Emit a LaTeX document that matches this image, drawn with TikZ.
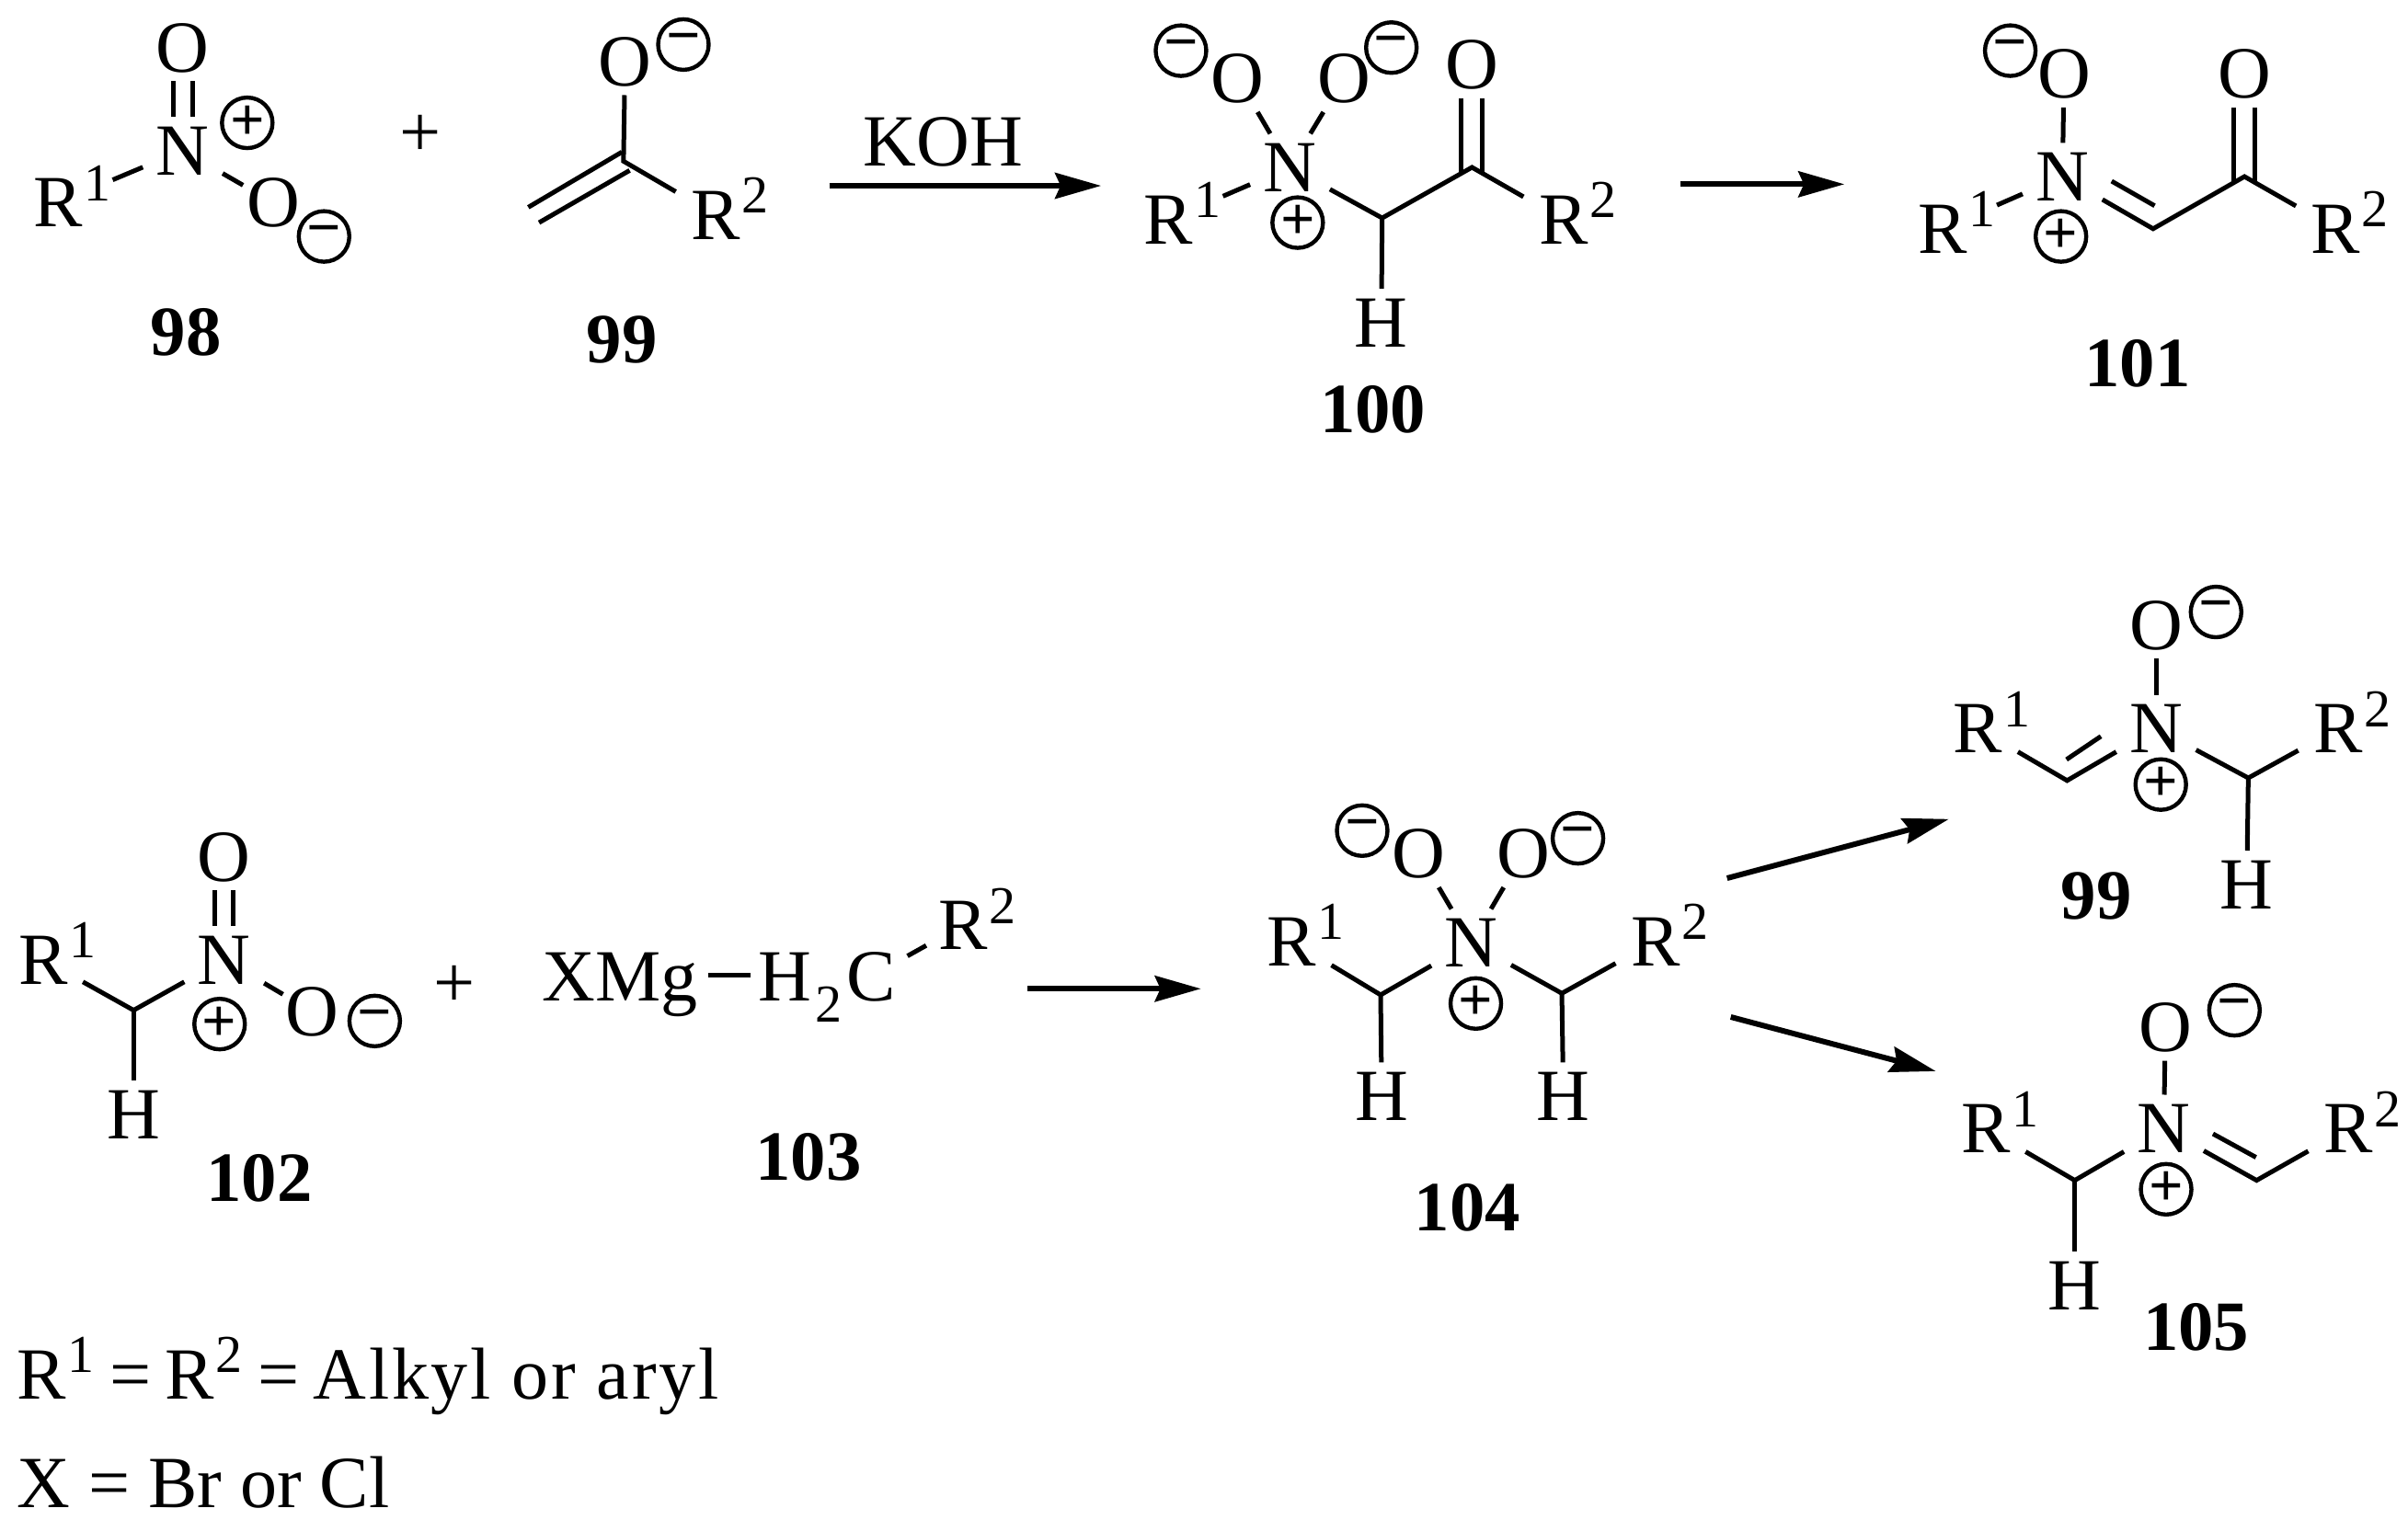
\documentclass[tikz,border=0pt]{standalone}
\usepackage{fontspec}
\setmainfont{Liberation Serif}
\usetikzlibrary{arrows.meta}
\newcommand{\mainsize}{\fontsize{40}{44}\selectfont}
\newcommand{\numsize}{\fontsize{38.4}{42}\selectfont}
\newcommand{\supsize}{\fontsize{29}{31}\selectfont}
\newcommand{\supR}[1]{R\rlap{\kern0.8pt\raisebox{14.2pt}{\supsize #1}}}
\newcommand{\inlinesup}[1]{\kern0.8pt\raisebox{14.2pt}{\supsize #1}}
\tikzset{
  x=0.83482pt,y=-0.83482pt,
  atom/.style={rectangle,inner sep=0pt,outer sep=0pt,minimum width=43.4pt,minimum height=36.7pt,
    font=\mainsize,text height=26.5pt,text depth=0pt},
  txt/.style={inner sep=0pt,outer sep=0pt,font=\mainsize,text height=26.5pt,text depth=0pt},
  free/.style={inner sep=0pt,outer sep=0pt,font=\mainsize},
  num/.style={inner sep=0pt,outer sep=0pt,font=\numsize\bfseries,text height=26pt,text depth=0pt},
  chg/.style={circle,draw=black,line width=2.2pt,minimum size=27.5pt,inner sep=0pt,outer sep=0pt,
    font=\fontsize{33}{33}\selectfont\bfseries},
  bond/.style={draw=black,line width=2.5pt,line cap=butt,line join=miter},
  rxn/.style={draw=black,line width=3pt,-{Stealth[length=25pt,width=14pt,inset=3pt]}},
}
\begin{document}
\begin{tikzpicture}
\useasboundingbox (0,0) rectangle (1568,989.44);
% ---------- 98
\node[atom] (aR) at (38,132) {\supR{1}};
\node[atom] (aN) at (119,98) {N};
\node[atom] (aO1) at (119,31) {O};
\node[atom] (aO2) at (178,132) {O};
\node[chg] (aP) at (161,80) {+};
\node[chg] (aM) at (211,154) {−};
\draw[bond,shorten <=8.5pt] (aR) -- (aN);
\draw[bond,shorten >=-6pt] (aN) -- (aO2);
\draw[bond] ([xshift=-5.3pt]aN.north) -- ([xshift=-5.3pt]aO1.south);
\draw[bond] ([xshift=5.3pt]aN.north) -- ([xshift=5.3pt]aO1.south);
\node[num] (n98) at (121,216) {98};
\node[txt] (plusA) at (274,86) {+};
% ---------- 99
\node[atom] (bO) at (407,40) {O};
\node[chg] (bM) at (445,29) {−};
\node[atom] (bR) at (466,140) {\supR{2}};
\coordinate (bC) at (406,105);
\coordinate (bA1) at (405,99);
\coordinate (bA2) at (344,135);
\coordinate (bB1) at (410,111);
\coordinate (bB2) at (351,145);
\draw[bond] (bO) -- (bC) -- (bR);
\draw[bond] (bA1) -- (bA2);
\draw[bond] (bB1) -- (bB2);
\node[num] (n99) at (405,221) {99};
% arrow KOH
\node[txt] (koh) at (614,92) {KOH};
\coordinate (r1s) at (540,121);
\coordinate (r1e) at (717,121);
\draw[rxn] (r1s) -- (r1e);
% ---------- 100
\node[atom] (cR) at (761,143) {\supR{1}};
\node[atom] (cN) at (840,109) {N};
\node[chg] (cP) at (845,145) {+};
\node[atom] (cO1) at (806,51) {O};
\node[chg] (cM1) at (769,33) {−};
\node[atom] (cO2) at (875,51) {O};
\node[chg] (cM2) at (906,31) {−};
\node[atom] (cO3) at (958.5,42) {O};
\node[atom] (cR2) at (1018,143) {\supR{2}};
\node[atom] (cH) at (899.5,210) {H};
\coordinate (cC1) at (900,142);
\coordinate (cC2) at (958.5,109);
\draw[bond,shorten <=8.5pt] (cR) -- (cN);
\draw[bond] (cN) -- (cO1);
\draw[bond] (cN) -- (cO2);
\draw[bond] (cN) -- (cC1) -- (cC2) -- (cR2);
\draw[bond] (cC1) -- (cH);
\draw[bond] ([xshift=-5.8pt]cO3.south) -- ([xshift=-5.8pt,yshift=-3.5pt]cC2);
\draw[bond] ([xshift=5.8pt]cO3.south) -- ([xshift=5.8pt,yshift=-3.5pt]cC2);
\node[num] (n100) at (894,266) {100};
% arrow
\coordinate (r2s) at (1094,120);
\coordinate (r2e) at (1201,120);
\draw[rxn] (r2s) -- (r2e);
% ---------- 101
\node[atom] (dR) at (1265,149) {\supR{1}};
\node[atom] (dN) at (1343,115) {N};
\node[chg] (dP) at (1342,154) {+};
\node[atom] (dO1) at (1344,48) {O};
\node[chg] (dM) at (1309,33) {−};
\node[atom] (dO2) at (1461.5,48) {O};
\node[atom] (dR2) at (1521,149) {\supR{2}};
\coordinate (dC1) at (1402,149);
\coordinate (dC2) at (1461.5,115);
\coordinate (dI1) at (1375,118);
\coordinate (dI2) at (1403,134);
\draw[bond,shorten <=8.5pt] (dR) -- (dN);
\draw[bond] (dN) -- (dO1);
\draw[bond] (dN) -- (dC1) -- (dC2) -- (dR2);
\draw[bond] (dI1) -- (dI2);
\draw[bond] ([xshift=-5.8pt]dO2.south) -- ([xshift=-5.8pt,yshift=-3.5pt]dC2);
\draw[bond] ([xshift=5.8pt]dO2.south) -- ([xshift=5.8pt,yshift=-3.5pt]dC2);
\node[num] (n101) at (1392,236) {101};
% ---------- 102
\node[atom] (eR) at (28,625) {\supR{1}};
\node[atom] (eN) at (146,625) {N};
\node[atom] (eO1) at (146,558) {O};
\node[atom] (eO2) at (203.5,659) {O};
\node[chg] (eP) at (143,667) {+};
\node[chg] (eM) at (244,665) {−};
\node[atom] (eH) at (87,726) {H};
\coordinate (eC) at (87,658);
\draw[bond] (eR) -- (eC) -- (eN);
\draw[bond] (eC) -- (eH);
\draw[bond,shorten >=-6.5pt] (eN) -- (eO2);
\draw[bond] ([xshift=-5pt]eN.north) -- ([xshift=-5pt]eO1.south);
\draw[bond] ([xshift=5pt]eN.north) -- ([xshift=5pt]eO1.south);
\node[num] (n102) at (169,767) {102};
\node[txt] (plusB) at (296,640) {+};
% ---------- 103
\node[txt,anchor=base west] (fX) at (353,652) {XMg};
\node[txt,anchor=base west] (fH) at (494,652) {H\kern2pt\raisebox{-11.5pt}{\supsize 2}};
\node[atom] (fC) at (567,636) {C};
\node[atom] (fR) at (627,602.5) {\supR{2}};
\draw[bond,shorten <=-2pt,shorten >=-2pt] (fC) -- (fR);
\coordinate (fB1) at (461,635);
\coordinate (fB2) at (489,635);
\draw[bond] (fB1) -- (fB2);
\node[num] (n103) at (526.5,753) {103};
% arrow
\coordinate (r3s) at (669,644);
\coordinate (r3e) at (782,644);
\draw[rxn] (r3s) -- (r3e);
% ---------- 104
\node[atom] (gR) at (841,613) {\supR{1}};
\node[atom] (gN) at (958,614) {N};
\node[chg] (gP) at (961,653.6) {+};
\node[atom] (gO1) at (924,556) {O};
\node[chg] (gM1) at (887,541) {−};
\node[atom] (gO2) at (992,556) {O};
\node[chg] (gM2) at (1027.5,546) {−};
\node[atom] (gR2) at (1078,613) {\supR{2}};
\node[atom] (gH1) at (899.7,714) {H};
\node[atom] (gH2) at (1018,714) {H};
\coordinate (gC1) at (899,648);
\coordinate (gC2) at (1017,647);
\draw[bond] (gR) -- (gC1) -- (gN);
\draw[bond] (gN) -- (gC2) -- (gR2);
\draw[bond] (gC1) -- (gH1);
\draw[bond] (gC2) -- (gH2);
\draw[bond] (gN) -- (gO1);
\draw[bond] (gN) -- (gO2);
\node[num] (n104) at (955.5,786) {104};
% arrows
\coordinate (r4s) at (1124.6,572);
\coordinate (r4e) at (1269,533.5);
\draw[rxn] (r4s) -- (r4e);
\coordinate (r5s) at (1127,662.4);
\coordinate (r5e) at (1260.5,697.7);
\draw[rxn] (r5s) -- (r5e);
% ---------- 99 (second)
\node[atom] (hO) at (1404,407) {O};
\node[chg] (hM) at (1443,398.6) {−};
\node[atom] (hN) at (1404,474.5) {N};
\node[chg] (hP) at (1407,511) {+};
\node[atom] (hR) at (1288,474.5) {\supR{1}};
\node[atom] (hR2) at (1522.5,474.5) {\supR{2}};
\node[atom] (hH) at (1463,576) {H};
\coordinate (hC1) at (1346,508.4);
\coordinate (hC2) at (1464,506.7);
\coordinate (hI1) at (1345.6,494.7);
\coordinate (hI2) at (1368,479.6);
\draw[bond] (hO) -- (hN);
\draw[bond] (hR) -- (hC1) -- (hN);
\draw[bond] (hI1) -- (hI2);
\draw[bond] (hN) -- (hC2) -- (hR2);
\draw[bond] (hC2) -- (hH);
\node[num] (n99b) at (1365,583) {99};
% ---------- 105
\node[atom] (iO) at (1410,669) {O};
\node[chg] (iM) at (1455,658) {−};
\node[atom] (iN) at (1409,735) {N};
\node[chg] (iP) at (1410.5,774.6) {+};
\node[atom] (iR) at (1293,735) {\supR{1}};
\node[atom] (iR2) at (1529,735) {\supR{2}};
\node[atom] (iH) at (1351,837) {H};
\coordinate (iC1) at (1351,768.8);
\coordinate (iC2) at (1469.4,768.8);
\coordinate (iI1) at (1441,738.5);
\coordinate (iI2) at (1469,753.8);
\draw[bond] (iO) -- (iN);
\draw[bond] (iR) -- (iC1) -- (iN);
\draw[bond] (iC1) -- (iH);
\draw[bond] (iN) -- (iC2) -- (iR2);
\draw[bond] (iI1) -- (iI2);
\node[num] (n105) at (1430,864) {105};
% ---------- legend
\node[free,anchor=base west] (t1) at (11,911) {R\inlinesup{1}\kern8.5pt=\kern7.5pt R\inlinesup{2}\kern8.5pt=\kern7.5pt{\addfontfeature{LetterSpace=3.5}Alkyl or aryl}};
\node[free,anchor=base west] (t2) at (11,982) {X = Br or Cl};
\end{tikzpicture}
\end{document}
